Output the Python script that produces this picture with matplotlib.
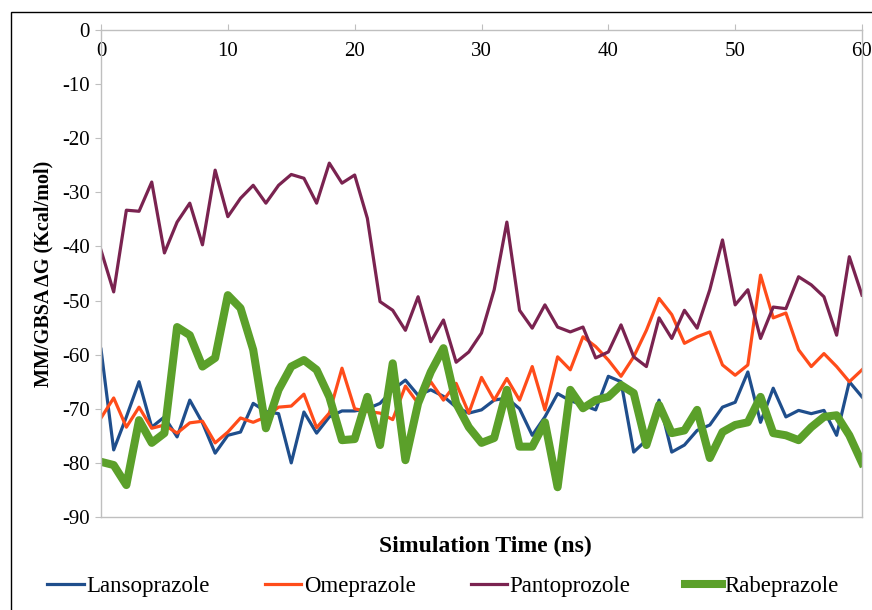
import numpy as np
import matplotlib
matplotlib.use("Agg")
import matplotlib.pyplot as plt
from matplotlib.patches import Rectangle

plt.rcParams['font.family'] = ['Liberation Serif', 'DejaVu Serif']
plt.rcParams['axes.unicode_minus'] = False

time_ns = list(range(0, 61))

lansoprazole = [-59, -77.6, -71.5, -65, -73.4, -71.5, -75.2, -68.4, -72.6, -78.2,
                -74.9, -74.3, -69, -70.5, -70.9, -80, -70.6, -74.5, -71.5, -70.4,
                -70.4, -70, -69, -66.5, -64.7, -67.5, -66.5, -67.7, -69.7, -70.8,
                -70.2, -68.4, -68, -70, -74.9, -71.5, -67.2, -68.5, -69.3, -70.2,
                -64, -65, -78, -75.8, -68.4, -78, -76.7, -74, -73, -69.7,
                -68.8, -63.2, -72.5, -66.2, -71.5, -70.3, -70.9, -70.3, -74.9, -65,
                -67.8]

omeprazole = [-71.7, -68, -73.4, -69.7, -73.6, -73, -74.5, -72.6, -72.3, -76.3,
              -74.3, -71.7, -72.5, -71.5, -69.7, -69.5, -67.3, -73.5, -70.8, -62.5,
              -70, -70.5, -70.8, -72, -65.8, -69, -65, -68.4, -65.3, -70.8,
              -64.2, -68.4, -64.4, -68.4, -62.2, -70.2, -60.4, -62.8, -56.7, -58.5,
              -61, -64, -60.4, -55.5, -49.6, -52.6, -57.9, -56.7, -55.8, -61.9,
              -63.8, -61.9, -45.3, -53.2, -52.3, -59.1, -62.2, -59.8, -62.2, -65,
              -62.8]

pantoprozole = [-40.7, -48.4, -33.3, -33.5, -28.1, -41.2, -35.5, -32, -39.7, -25.9,
                -34.5, -31.1, -28.7, -32, -28.7, -26.7, -27.4, -32, -24.6, -28.3,
                -26.8, -34.8, -50.2, -51.8, -55.5, -49.3, -57.6, -53.6, -61.4, -59.5,
                -56, -48, -35.5, -51.8, -55.1, -50.8, -54.9, -55.8, -54.9, -60.6,
                -59.5, -54.5, -60.4, -62.2, -53.2, -57, -51.8, -55.1, -48, -38.8,
                -50.8, -48, -57, -51.2, -51.5, -45.6, -47.1, -49.3, -56.4, -41.9,
                -49]

rabeprazole = [-79.8, -80.4, -84.1, -72.1, -76.3, -74.5, -54.9, -56.4, -62.2, -60.6,
               -49, -51.4, -59.1, -73.6, -66.5, -62.2, -61, -62.8, -67.8, -75.8,
               -75.6, -67.8, -76.7, -61.6, -79.5, -69, -63.2, -58.8, -69, -73.4,
               -76.3, -75.4, -66.5, -77, -77, -72.5, -84.5, -66.5, -69.9, -68.4,
               -67.8, -65.6, -67.1, -76.7, -69.3, -74.5, -74, -70.2, -79.1, -74.3,
               -73, -72.5, -67.8, -74.5, -74.9, -75.8, -73.4, -71.5, -71.2, -74.9,
               -80]

x_ticks = [0, 10, 20, 30, 40, 50, 60]
y_ticks = [0, -10, -20, -30, -40, -50, -60, -70, -80, -90]

fig = plt.figure(figsize=(8.72, 6.10), dpi=100)
ax = fig.add_axes([101 / 872, 1 - 517 / 610, (862 - 101) / 872, (517 - 30) / 610])

ax.plot(time_ns, lansoprazole, color='#1F4E8C', lw=2.3, label='Lansoprazole')
ax.plot(time_ns, omeprazole, color='#FF4C1A', lw=2.3, label='Omeprazole')
ax.plot(time_ns, pantoprozole, color='#7A2350', lw=2.3, label='Pantoprozole')
ax.plot(time_ns, rabeprazole, color='#5BA02A', lw=5.8, label='Rabeprazole')

ax.set_xlim(0, 60)
ax.set_ylim(-90, 0)
ax.set_xticks(x_ticks)
ax.set_yticks(y_ticks)

gray = '#BFBFBF'
for s in ax.spines.values():
    s.set_color(gray)
    s.set_linewidth(1.0)

ax.tick_params(axis='x', top=True, bottom=False, labeltop=True, labelbottom=False,
               direction='out', length=4, color=gray, pad=-26, labelsize=15)
ax.tick_params(axis='y', direction='out', length=4, color=gray, labelsize=15, pad=4)

ax.set_ylabel('MM/GBSA ΔG (Kcal/mol)', fontsize=14.5, fontweight='bold', labelpad=6)
fig.text(485 / 872, 1 - 546 / 610, 'Simulation Time (ns)', fontsize=17,
         fontweight='bold', ha='center', va='center')

fig.legend(loc='center', bbox_to_anchor=(443 / 872, 1 - 586 / 610), ncol=4, frameon=False,
           fontsize=16.5, handlelength=1.6, handletextpad=0.1, columnspacing=2.4)

# outer frame (only left and top visible in the original crop)
fig.patches.append(Rectangle((11 / 872, -0.1), 1.2, (610 - 12) / 610 + 0.1,
                             transform=fig.transFigure, fill=False,
                             edgecolor='black', lw=1.0))

fig.savefig('out.png', dpi=100)
